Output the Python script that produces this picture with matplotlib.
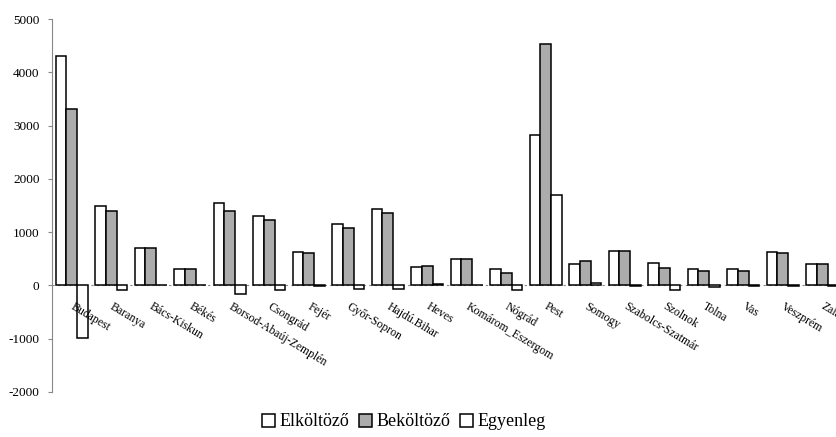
import matplotlib
matplotlib.use("Agg")
import matplotlib.pyplot as plt
from matplotlib.patches import Patch
import numpy as np

categories = ["Budapest", "Baranya", "Bács-Kiskun", "Békés", "Borsod-Abaúj-Zemplén",
              "Csongrád", "Fejér", "Győr-Sopron", "Hajdú.Bihar", "Heves",
              "Komárom_Eszergom", "Nógrád", "Pest", "Somogy", "Szabolcs-Szatmár",
              "Szolnok", "Tolna", "Vas", "Veszprém", "Zala"]
elkoltozo = [4310, 1500, 710, 300, 1550, 1310, 620, 1160, 1440, 340,
             505, 315, 2830, 410, 655, 430, 300, 300, 620, 410]
bekoltozo = [3320, 1405, 710, 300, 1390, 1220, 600, 1085, 1365, 360,
             505, 230, 4530, 450, 640, 335, 265, 280, 610, 395]
egyenleg = [-990, -95, 5, 5, -160, -90, -20, -75, -75, 20,
            5, -85, 1700, 40, -15, -95, -30, -20, -10, -15]
series_names = ["Elköltöző", "Beköltöző", "Egyenleg"]
yticks = [-2000, -1000, 0, 1000, 2000, 3000, 4000, 5000]

plt.rcParams['font.family'] = ['Liberation Serif', 'DejaVu Serif']

fig = plt.figure(figsize=(8.36, 4.37), dpi=100)
ax = fig.add_axes([52/836, 1-392/437, (842-52)/836, (392-19)/437])

x = np.arange(len(categories))
w = 0.27
ax.bar(x - w, elkoltozo, w, facecolor='white', edgecolor='black', linewidth=1.1, zorder=3)
ax.bar(x, bekoltozo, w, facecolor='#acacac', edgecolor='black', linewidth=1.1, zorder=3)
ax.bar(x + w, egyenleg, w, facecolor='white', edgecolor='black', linewidth=1.1, zorder=3)

ax.set_xlim(-0.5, 19.5)
ax.set_ylim(-2000, 5000)
ax.set_yticks(yticks)
ax.set_yticklabels([str(v) for v in yticks], fontsize=9.5)
ax.set_xticks([])
for s in ['top', 'right', 'bottom']:
    ax.spines[s].set_visible(False)
ax.spines['left'].set_color('#888888')
ax.spines['left'].set_linewidth(0.8)
ax.tick_params(axis='y', direction='out', length=3, color='#888888', pad=6)

ax.axhline(0, color='#888888', linewidth=0.8, linestyle=(0, (2, 3)), zorder=1)

for i, c in enumerate(categories):
    ax.annotate(c, xy=(i, 0), xytext=(2, -11), textcoords='offset points',
                rotation=-31, ha='left', va='top', rotation_mode='anchor',
                fontsize=8.5, zorder=4)

handles = [Patch(facecolor='white', edgecolor='black', linewidth=1.1),
           Patch(facecolor='#acacac', edgecolor='black', linewidth=1.1),
           Patch(facecolor='white', edgecolor='black', linewidth=1.1)]
fig.legend(handles, series_names, loc='center', bbox_to_anchor=(404/836, 1-422/437),
           ncol=3, frameon=False, fontsize=13, handlelength=0.75, handleheight=0.75,
           handletextpad=0.25, columnspacing=0.5)

fig.savefig("out.png", dpi=100)
